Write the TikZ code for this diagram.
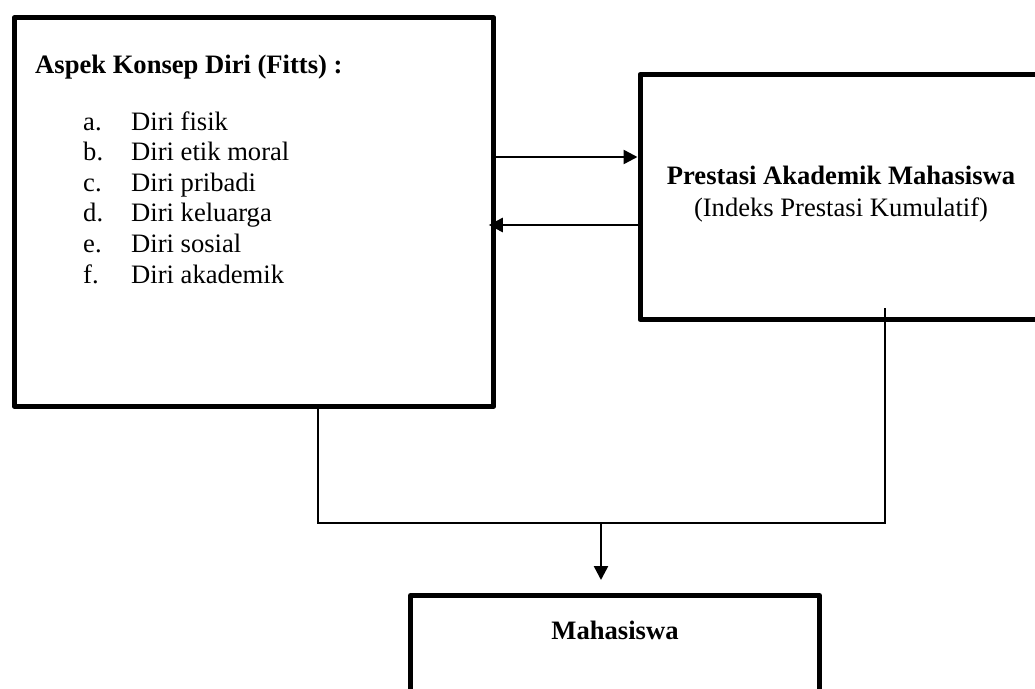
\documentclass[tikz,border=0pt]{standalone}
\usepackage{fontspec}
\setmainfont{Liberation Serif}
\usetikzlibrary{calc,positioning,arrows.meta}
\newcommand{\bodysize}{\fontsize{26.6}{32}\selectfont}

\begin{document}
\begin{tikzpicture}[x=1pt, y=-1pt,
    font=\bodysize,
    bigbox/.style={draw, line width=5pt, line join=round, rectangle, inner sep=0pt},
    item/.style={inner sep=0pt, anchor=base west},
    link/.style={line width=2pt},
    arr/.style={line width=2.5pt, -{Triangle[length=14pt, width=14pt]}}]
    \useasboundingbox (0,0) rectangle (1035,688);

    % Boxes
    \node[bigbox, minimum width=479.5pt, minimum height=388.5pt] (konsep) at (254,212) {};
    \node[bigbox, minimum width=405pt, minimum height=245pt] (prestasi) at (842.5,197) {};
    \node[bigbox, minimum width=409pt, minimum height=124.5pt] (mhs) at (615,657.75) {};

    % Texts of the boxes
    \node[item, font=\bodysize\bfseries] (judul) at (35,73) {Aspek Konsep Diri (Fitts) :};
    \foreach \lt/\txt [count=\k from 0] in {a./Diri fisik, b./Diri etik moral, c./Diri pribadi,
        d./Diri keluarga, e./Diri sosial, f./Diri akademik} {
        \node[item] (huruf\k) at (83, {130+30.6*\k}) {\lt};
        \node[item] (aspek\k) at (131, {130+30.6*\k}) {\txt};
    }
    \node[inner sep=0pt, align=center] (ipklbl) at ([xshift=-1.5pt, yshift=3pt]prestasi.center)
        {\textbf{Prestasi Akademik Mahasiswa}\\(Indeks Prestasi Kumulatif)};
    \node[inner sep=0pt, anchor=base, font=\bodysize\bfseries] (mhslbl) at (615,639) {Mahasiswa};

    % Arrows between the upper boxes
    \coordinate (ke) at (0,157);
    \coordinate (dari) at (0,225);
    \draw[arr] (konsep.east |- ke) -- (prestasi.west |- ke);
    \draw[arr, shorten >=-7.5pt] (prestasi.west |- dari) -- (konsep.east |- dari);

    % Joining lines and arrow down
    \coordinate (lft) at (318,523);
    \coordinate (ipk) at (885,308);
    \coordinate (join) at (601,523);
    \draw[link] (konsep.south -| lft) -- (lft) -- (lft -| ipk) -- (ipk);
    \draw[arr, shorten >=13pt] (join) -- (join |- mhs.north);
\end{tikzpicture}
\end{document}
